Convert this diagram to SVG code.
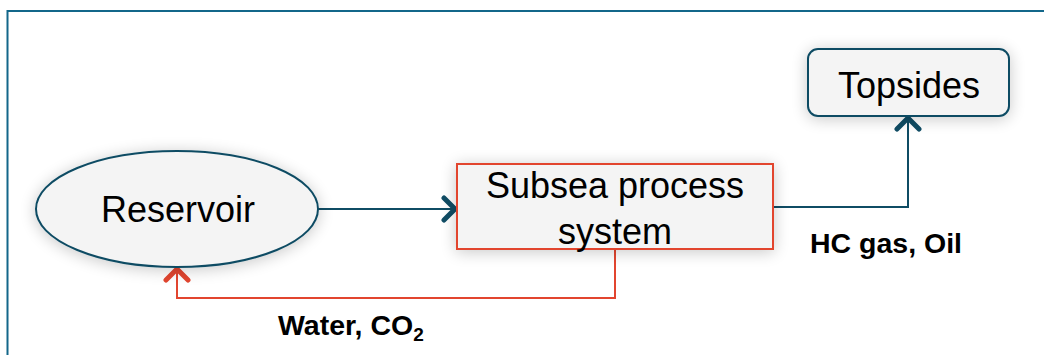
<svg xmlns="http://www.w3.org/2000/svg" width="1044" height="355" viewBox="0 0 1044 355">
<style>
.node{fill:#f4f4f4}
.teal{stroke:#0f4c64;stroke-width:2}
.red{stroke:#e2452f;stroke-width:2}
.lbl{font-family:"Liberation Sans",Arial,sans-serif;font-size:36px;fill:#000;text-anchor:middle}
.edge{font-family:"Liberation Sans",Arial,sans-serif;font-size:28.5px;font-weight:bold;fill:#000}
.conn{fill:none}
</style>
<defs>
<filter id="sh" x="-20%" y="-30%" width="140%" height="160%">
<feGaussianBlur in="SourceAlpha" stdDeviation="8"/>
<feOffset dx="0" dy="2" result="b"/>
<feComponentTransfer><feFuncA type="linear" slope="0.22"/></feComponentTransfer>
<feMerge><feMergeNode/><feMergeNode in="SourceGraphic"/></feMerge>
</filter>
<marker id="aT" markerUnits="userSpaceOnUse" markerWidth="24" markerHeight="28" refX="14" refY="14" orient="auto">
<path d="M3,3 L14,14 L3,25" fill="none" stroke="#0f4c64" stroke-width="5" stroke-linecap="round" stroke-linejoin="round"/>
</marker>
<marker id="aR" markerUnits="userSpaceOnUse" markerWidth="24" markerHeight="28" refX="14" refY="14" orient="auto">
<path d="M3,3 L14,14 L3,25" fill="none" stroke="#e2452f" stroke-width="5" stroke-linecap="round" stroke-linejoin="round"/>
</marker>
</defs>
<rect width="1044" height="355" fill="#ffffff"/>
<rect id="frame" x="7.5" y="11" width="1060" height="370" fill="none" stroke="#13678a" stroke-width="2"/>
<g id="connectors">
<path class="conn teal" d="M318,209 H455" marker-end="url(#aT)"/>
<path class="conn teal" d="M773,207 H908 V118" marker-end="url(#aT)"/>
<path class="conn red" d="M615,249 V298 H177 V269" marker-end="url(#aR)"/>
</g>
<g id="reservoir">
<ellipse class="node teal" cx="177" cy="209" rx="141" ry="58" filter="url(#sh)"/>
<text class="lbl" x="178" y="222">Reservoir</text>
</g>
<g id="subsea">
<rect class="node red" x="457" y="164" width="316" height="85" filter="url(#sh)"/>
<text class="lbl" x="615" y="198">Subsea process</text>
<text class="lbl" x="615" y="244">system</text>
</g>
<g id="topsides">
<rect class="node teal" x="808" y="49" width="201" height="67" rx="10" filter="url(#sh)"/>
<text class="lbl" x="909" y="98">Topsides</text>
</g>
<g id="labels">
<text class="edge" x="810" y="253">HC gas, Oil</text>
<text class="edge" x="278" y="335">Water, CO<tspan font-size="19" dy="6">2</tspan></text>
</g>
</svg>
